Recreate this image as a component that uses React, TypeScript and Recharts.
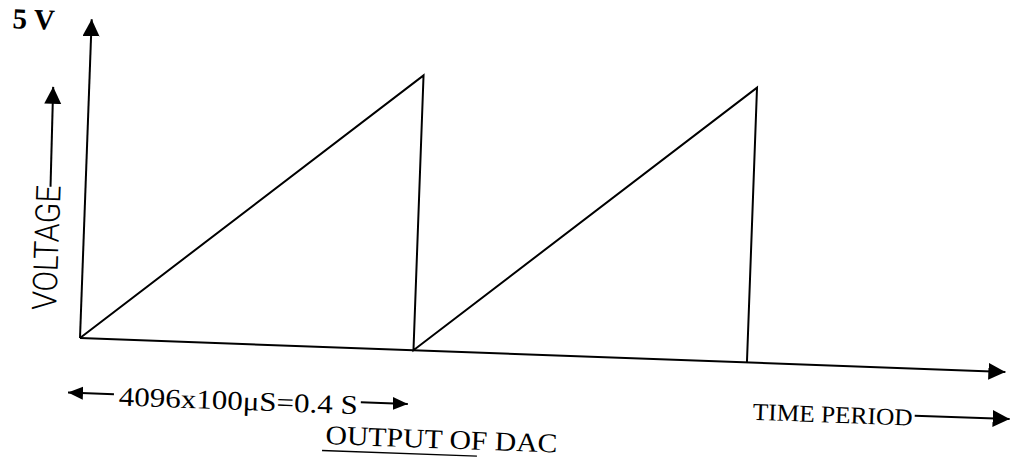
import { Customized, Line, LineChart, XAxis, YAxis } from "recharts";

// DAC ramp output: time (s) vs voltage (V)
const timeS = [0, 0.4, 0.4, 0.8, 0.8];
const voltageV = [0, 5, 0, 5, 0];

const peakLabel = "5 V";
const yLabel = "VOLTAGE";
const xLabel = "TIME PERIOD";
const periodLabel = "4096x100\u03bcS=0.4 S";
const caption = "OUTPUT OF DAC";

const data = timeS.map((t, i) => ({ t, v: voltageV[i] }));

const serif = '"Liberation Serif", "Times New Roman", serif';
const ink = "#000";

function Notes() {
  return (
    <g>
      <defs>
        <marker id="head" markerUnits="userSpaceOnUse" viewBox="0 0 18 18" markerWidth={18} markerHeight={18} refX={17} refY={8.5} orient="auto-start-reverse">
          <path d="M0,0 L17,8.5 L0,17 Z" fill={ink} />
        </marker>
        <marker id="headSm" markerUnits="userSpaceOnUse" viewBox="0 0 16 14" markerWidth={16} markerHeight={14} refX={15} refY={6.5} orient="auto-start-reverse">
          <path d="M0,0 L15,6.5 L0,13 Z" fill={ink} />
        </marker>
      </defs>

      <text x={1} y={31} fontFamily={serif} fontWeight="bold" fontSize={29} fill={ink}>
        {peakLabel}
      </text>

      {/* voltage label with its little arrow */}
      <line x1={45} y1={188} x2={44} y2={88} stroke={ink} strokeWidth={2} markerEnd="url(#head)" />
      <text
        x={55}
        y={249}
        transform="rotate(-90 55 249)"
        textAnchor="middle"
        fontFamily='Roboto, "Liberation Sans", sans-serif'
        fontWeight={300}
        fontSize={34}
        textLength={125}
        lengthAdjust="spacingAndGlyphs"
        fill={ink}
      >
        {yLabel}
      </text>

      {/* one period */}
      <line x1={116} y1={393} x2={70} y2={393} stroke={ink} strokeWidth={2} markerEnd="url(#headSm)" />
      <text x={121} y={404} fontFamily={serif} fontSize={27} textLength={239} lengthAdjust="spacingAndGlyphs" fill={ink}>
        {periodLabel}
      </text>
      <line x1={363} y1={392} x2={410} y2={392} stroke={ink} strokeWidth={2} markerEnd="url(#headSm)" />

      <text x={755} y={395} fontFamily={serif} fontSize={24} textLength={160} lengthAdjust="spacingAndGlyphs" fill={ink}>
        {xLabel}
      </text>
      <line x1={917} y1={385} x2={1012} y2={385} stroke={ink} strokeWidth={2} markerEnd="url(#head)" />

      <text x={329} y={435} fontFamily={serif} fontSize={27} textLength={232} lengthAdjust="spacingAndGlyphs" fill={ink}>
        {caption}
      </text>
      <line x1={326} y1={441.5} x2={481} y2={441.5} stroke={ink} strokeWidth={1.5} />
    </g>
  );
}

export default function App() {
  return (
    <div
      style={{
        position: "absolute",
        left: 0,
        top: 0,
        width: 1024,
        height: 462,
        background: "#fff",
        transform: "rotate(2.1deg)",
        transformOrigin: "80px 338px",
      }}
    >
      <LineChart width={1024} height={462} data={data} margin={{ top: 19, right: 18, bottom: 123, left: 79 }}>
        <XAxis
          dataKey="t"
          type="number"
          domain={[0, 1.11]}
          height={1}
          tick={false}
          tickLine={false}
          axisLine={{ stroke: ink, strokeWidth: 2, markerEnd: "url(#head)" }}
        />
        <YAxis
          type="number"
          domain={[0, 5.8]}
          width={1}
          tick={false}
          tickLine={false}
          axisLine={{ stroke: ink, strokeWidth: 2, markerStart: "url(#head)" }}
        />
        <Line type="linear" dataKey="v" stroke={ink} strokeWidth={2} dot={false} isAnimationActive={false} />
        <Customized component={<Notes />} />
      </LineChart>
    </div>
  );
}
